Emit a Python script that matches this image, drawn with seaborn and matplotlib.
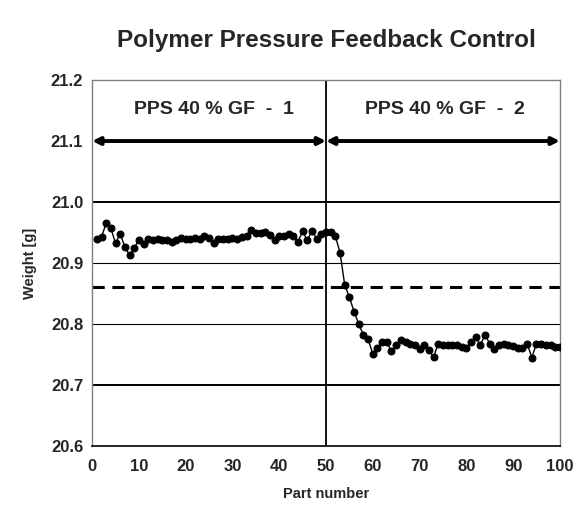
import numpy as np
import pandas as pd
import seaborn as sns
import matplotlib.pyplot as plt

# part weights (parts 1..100)
part = list(range(1, 101))
weight = [
    20.939, 20.943, 20.965, 20.957, 20.932, 20.948, 20.926, 20.913, 20.925, 20.938,
    20.931, 20.939, 20.938, 20.939, 20.937, 20.938, 20.935, 20.937, 20.941, 20.940,
    20.940, 20.941, 20.940, 20.944, 20.941, 20.933, 20.939, 20.939, 20.940, 20.941,
    20.940, 20.942, 20.945, 20.954, 20.950, 20.950, 20.951, 20.946, 20.937, 20.944,
    20.945, 20.947, 20.945, 20.935, 20.952, 20.937, 20.953, 20.940, 20.948, 20.951,
    20.951, 20.944, 20.917, 20.864, 20.844, 20.820, 20.800, 20.782, 20.775, 20.751,
    20.760, 20.771, 20.770, 20.755, 20.766, 20.774, 20.770, 20.767, 20.765, 20.759,
    20.766, 20.757, 20.746, 20.768, 20.766, 20.766, 20.766, 20.766, 20.762, 20.760,
    20.770, 20.778, 20.766, 20.782, 20.768, 20.759, 20.766, 20.768, 20.766, 20.764,
    20.761, 20.760, 20.768, 20.745, 20.768, 20.768, 20.766, 20.765, 20.763, 20.762,
]
setpoint = 20.86
switch_part = 50
section_labels = ['PPS 40 % GF  -  1', 'PPS 40 % GF  -  2']

df = pd.DataFrame({'Part number': part, 'Weight [g]': weight})

sns.set_style('white')
plt.rcParams['font.family'] = ['Liberation Sans', 'DejaVu Sans']

fig = plt.figure(figsize=(5.76, 5.13), dpi=100)
ax = fig.add_axes([0.16, 0.1306, 0.812, 0.7134])

# horizontal grid lines
for yv in [20.7, 20.8, 20.9, 21.0]:
    lw = 1.4 if yv in (20.7, 21.0) else 0.8
    ax.axhline(yv, color='black', lw=lw, zorder=1)

ax.axhline(setpoint, color='black', lw=2.2, ls=(0, (4, 2.5)), zorder=2)
ax.axvline(switch_part, color='black', lw=1.3, zorder=2)

sns.lineplot(data=df, x='Part number', y='Weight [g]', ax=ax, color='black',
             lw=1, marker='o', markersize=5, markeredgecolor='black', zorder=3)

# section arrows
for x0, x1 in [(0, switch_part), (switch_part, 100)]:
    ax.annotate('', xy=(x0, 21.1), xytext=(x1, 21.1),
                arrowprops=dict(arrowstyle='<|-|>', color='black', lw=2.8,
                                mutation_scale=11, shrinkA=0, shrinkB=0),
                zorder=4)
ax.text(26, 21.151, section_labels[0], ha='center', va='center',
        fontsize=14, fontweight='bold')
ax.text(75.5, 21.151, section_labels[1], ha='center', va='center',
        fontsize=14, fontweight='bold')

ax.set_xlim(0, 100)
ax.set_ylim(20.6, 21.2)
ax.set_xticks(range(0, 101, 10))
ax.set_yticks(np.round(np.arange(20.6, 21.21, 0.1), 1))
ax.set_yticklabels([f'{v:.1f}' for v in np.arange(20.6, 21.21, 0.1)])
ax.tick_params(axis='both', direction='inout', length=6, width=1,
               labelsize=12, color='black')
ax.tick_params(axis='x', pad=6)
for lab in ax.get_xticklabels() + ax.get_yticklabels():
    lab.set_fontweight('bold')

ax.set_xlabel('Part number', fontsize=10.5, fontweight='bold', labelpad=10)
ax.set_ylabel('Weight [g]', fontsize=10.5, fontweight='bold', labelpad=10)
ax.set_title('Polymer Pressure Feedback Control', fontsize=17.5,
             fontweight='bold', pad=24)

for side in ['left', 'top', 'right']:
    ax.spines[side].set_color('#808080')
    ax.spines[side].set_linewidth(1)
ax.spines['bottom'].set_color('black')
ax.spines['bottom'].set_linewidth(1.2)

fig.savefig('out.png', dpi=100)
